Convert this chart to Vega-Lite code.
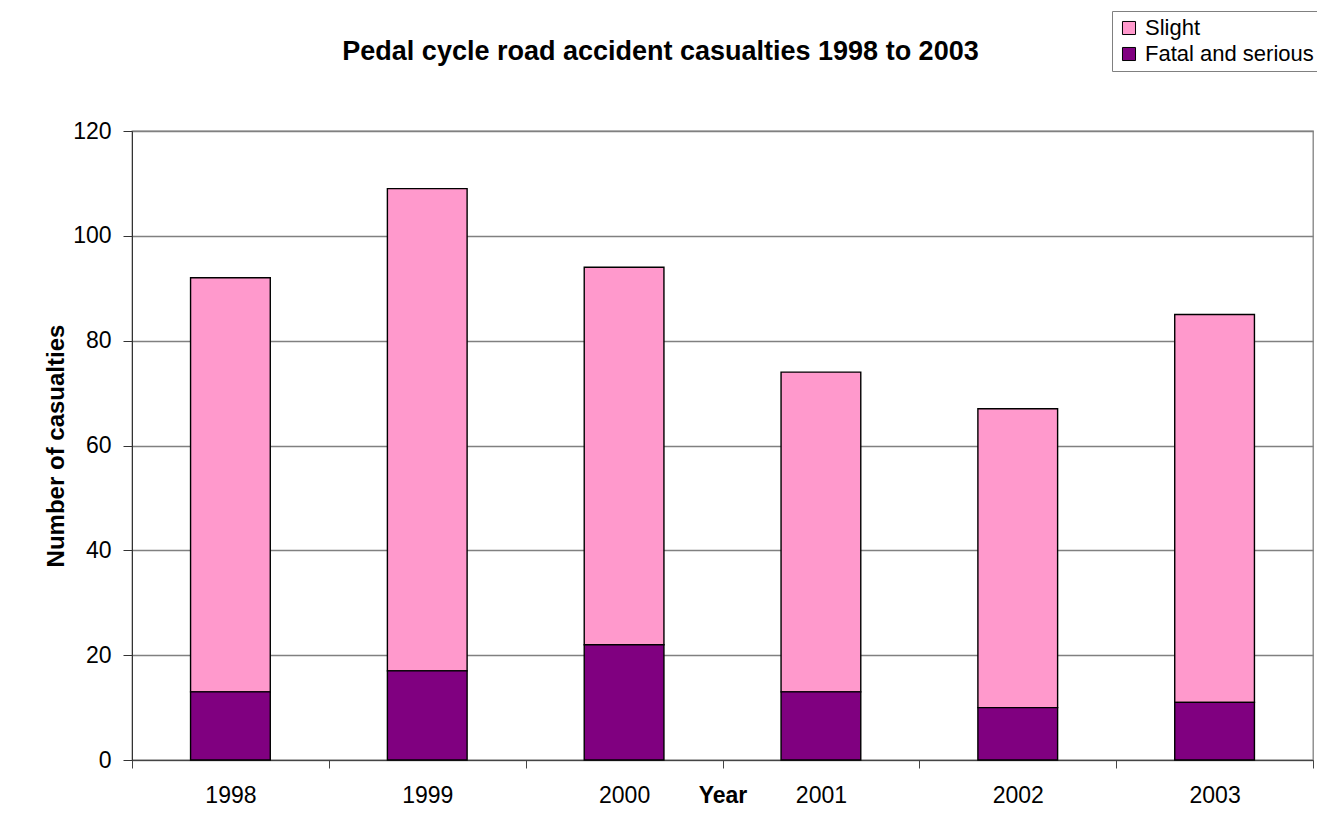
{
  "$schema": "https://vega.github.io/schema/vega-lite/v6.json",
  "autosize": "none",
  "width": 1181,
  "height": 629,
  "padding": {"left": 132, "top": 131, "right": 4, "bottom": 54},
  "background": "white",
  "title": {
    "text": "Pedal cycle road accident casualties 1998 to 2003",
    "font": "Liberation Sans",
    "fontSize": 27,
    "fontWeight": "bold",
    "color": "black",
    "anchor": "middle",
    "frame": "group",
    "dx": -62,
    "offset": -55
  },
  "data": {
    "values": [
      {"year": "1998", "severity": "Slight", "casualties": 79},
      {"year": "1998", "severity": "Fatal and serious", "casualties": 13},
      {"year": "1999", "severity": "Slight", "casualties": 92},
      {"year": "1999", "severity": "Fatal and serious", "casualties": 17},
      {"year": "2000", "severity": "Slight", "casualties": 72},
      {"year": "2000", "severity": "Fatal and serious", "casualties": 22},
      {"year": "2001", "severity": "Slight", "casualties": 61},
      {"year": "2001", "severity": "Fatal and serious", "casualties": 13},
      {"year": "2002", "severity": "Slight", "casualties": 57},
      {"year": "2002", "severity": "Fatal and serious", "casualties": 10},
      {"year": "2003", "severity": "Slight", "casualties": 74},
      {"year": "2003", "severity": "Fatal and serious", "casualties": 11}
    ]
  },
  "mark": {"type": "bar", "width": {"band": 0.405}, "stroke": "black", "strokeWidth": 1.4},
  "encoding": {
    "x": {
      "field": "year",
      "type": "nominal",
      "scale": {"paddingInner": 0, "paddingOuter": 0},
      "axis": {
        "title": "Year",
        "labelAngle": 0,
        "tickBand": "extent",
        "grid": false,
        "domainColor": "#444",
        "tickColor": "#444",
        "tickSize": 8,
        "labelPadding": 16,
        "labelFont": "Liberation Sans",
        "labelFontSize": 23,
        "labelColor": "black",
        "titleFont": "Liberation Sans",
        "titleFontSize": 23,
        "titleFontWeight": "bold",
        "titleColor": "black",
        "titleY": 24,
        "titleBaseline": "top"
      }
    },
    "y": {
      "field": "casualties",
      "type": "quantitative",
      "stack": "zero",
      "scale": {"domain": [0, 120]},
      "axis": {
        "title": "Number of casualties",
        "values": [0, 20, 40, 60, 80, 100, 120],
        "grid": true,
        "gridColor": "#808080",
        "gridWidth": 1.3,
        "domainColor": "#333",
        "tickColor": "#333",
        "tickSize": 9,
        "labelPadding": 12,
        "labelFont": "Liberation Sans",
        "labelFontSize": 23,
        "labelColor": "black",
        "titleFont": "Liberation Sans",
        "titleFontSize": 24,
        "titleFontWeight": "bold",
        "titleColor": "black",
        "titlePadding": 4
      }
    },
    "color": {
      "field": "severity",
      "type": "nominal",
      "scale": {"domain": ["Slight", "Fatal and serious"], "range": ["#FF99CC", "#800080"]},
      "legend": {
        "title": null,
        "orient": "none",
        "legendX": 980,
        "legendY": -120,
        "symbolType": "square",
        "symbolSize": 170,
        "symbolStrokeColor": "black",
        "symbolStrokeWidth": 1,
        "labelFont": "Liberation Sans",
        "labelFontSize": 22,
        "labelColor": "black",
        "labelOffset": 5,
        "labelLimit": 400,
        "rowPadding": 4,
        "strokeColor": "#808080",
        "padding": 6,
        "fillColor": "white"
      }
    },
    "order": {"field": "severity", "sort": "ascending"}
  },
  "config": {
    "view": {"stroke": "#808080", "strokeWidth": 1.3}
  }
}
